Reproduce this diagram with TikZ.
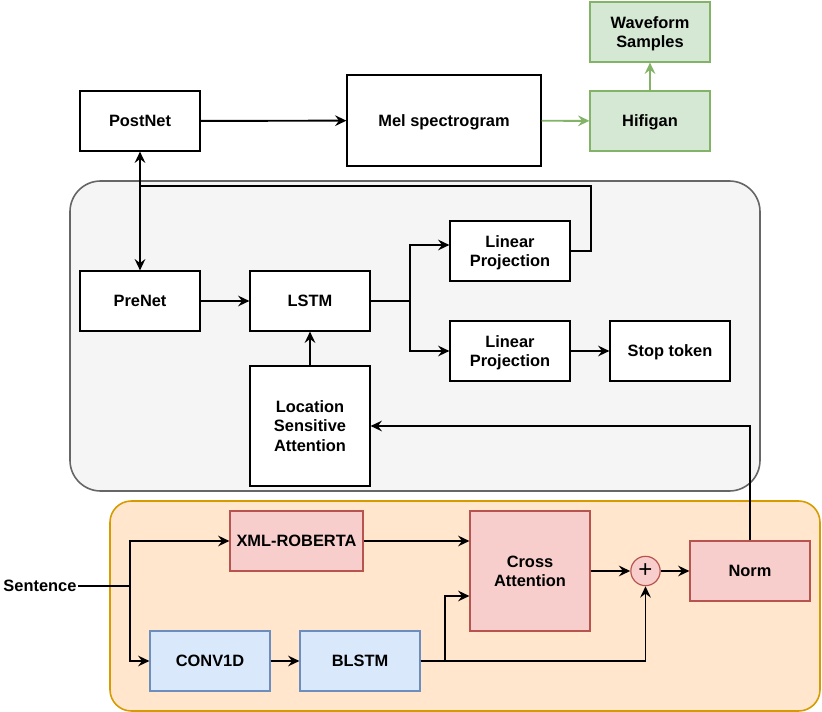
\documentclass[tikz,border=0pt]{standalone}
\usepackage{fontspec}
\setmainfont{Liberation Sans}
\usetikzlibrary{arrows.meta}
\definecolor{grnfill}{HTML}{D5E8D4}
\definecolor{grnline}{HTML}{82B366}
\definecolor{grayfill}{HTML}{F5F5F5}
\definecolor{grayline}{HTML}{666666}
\definecolor{orfill}{HTML}{FFE6CC}
\definecolor{orline}{HTML}{D79B00}
\definecolor{redfill}{HTML}{F8CECC}
\definecolor{redline}{HTML}{B85450}
\definecolor{bluefill}{HTML}{DAE8FC}
\definecolor{blueline}{HTML}{6C8EBF}
\begin{document}
\begin{tikzpicture}[x=0.75pt,y=-0.75pt,
  box/.style={draw=black, line width=0.9pt, fill=white, align=center,
    font=\fontsize{12.3pt}{14.3pt}\selectfont\bfseries, inner sep=0pt, text depth=0pt,
    minimum width=90pt, minimum height=45pt},
  greenbox/.style={box, draw=grnline, fill=grnfill},
  redbox/.style={box, draw=redline, fill=redfill},
  bluebox/.style={box, draw=blueline, fill=bluefill},
  tip/.tip={Stealth[length=8.5pt,width=8pt,inset=3pt]},
  conn/.style={line width=1.45pt, -tip},
  plain/.style={line width=1.45pt},
  gconn/.style={conn, draw=grnline}
]
\useasboundingbox (0,0) rectangle (822,712);

% containers
\draw[draw=grayline, fill=grayfill, line width=1.2pt, rounded corners=23pt] (70,181) rectangle (760,491);
\draw[draw=orline, fill=orfill, line width=1.2pt, rounded corners=16pt] (110,501) rectangle (820,711);

% top row
\node[greenbox] (wave) at (650,32) {Waveform\\Samples};
\node[greenbox] (hifi) at (650,121) {Hifigan};
\node[box] (post) at (140,121) {PostNet};
\node[box, minimum width=145.5pt, minimum height=68.25pt] (mel) at (444,120.5) {Mel spectrogram};

% decoder
\node[box] (prenet) at (140,301) {PreNet};
\node[box] (lstm) at (310,301) {LSTM};
\node[box] (lp1) at (510,251) {Linear\\Projection};
\node[box] (lp2) at (510,351) {Linear\\Projection};
\node[box] (stop) at (670,351) {Stop token};
\node[box, minimum height=90pt] (loc) at (310,426) {Location\\Sensitive\\Attention};

% encoder
\node[redbox, minimum width=99.75pt] (xml) at (296.5,541) {XML-ROBERTA};
\node[redbox, minimum height=90pt] (cross) at (530,571) {Cross\\Attention};
\node[circle, draw=redline, fill=redfill, line width=0.9pt, minimum size=22pt, inner sep=0pt,
  font=\fontsize{18pt}{18pt}\selectfont] (plus) at (645.5,571) {+};
\node[redbox] (norm) at (750,571) {Norm};
\node[bluebox] (conv) at (210,661) {CONV1D};
\node[bluebox] (blstm) at (360,661) {BLSTM};
\node[font=\fontsize{12.3pt}{14.3pt}\selectfont\bfseries, anchor=east, inner sep=1pt, text depth=0pt] (sent) at (78,586) {Sentence};

\coordinate (j1) at (140,186);
\coordinate (j2) at (130,586);
\coordinate (j3) at (410,301);

% connectors top
\draw[conn] (post) -- (mel);
\draw[gconn] (mel) -- (hifi);
\draw[gconn] (hifi) -- (wave);
\draw[plain] (lp1.east) -- ++(20,0) |- (j1);
\draw[line width=1.45pt, tip-tip] (post.south) -- (prenet.north);

% decoder connectors
\draw[conn] (prenet) -- (lstm);
\draw[plain] (lstm.east) -- (j3);
\draw[conn] (j3) |- ([yshift=4.5pt]lp1.west);
\draw[conn] (j3) |- (lp2.west);
\draw[conn] (lp2) -- (stop);
\draw[conn] (loc) -- (lstm);
\draw[conn] (norm.north) |- (loc.east);

% encoder connectors
\draw[plain] (sent.east) -- (j2);
\draw[conn] (j2) |- (xml.west);
\draw[conn] (j2) |- (conv.west);
\draw[conn] (xml.east) -- (cross.west |- xml.east);
\draw[conn] (conv) -- (blstm);
\draw[conn] (blstm.east) -- (445,661) |- ([yshift=-18.75pt]cross.west);
\draw[conn] (blstm.east) -| (plus.south);
\draw[conn] (cross.east |- plus) -- (plus.west);
\draw[conn] (plus) -- (norm);
\end{tikzpicture}
\end{document}
